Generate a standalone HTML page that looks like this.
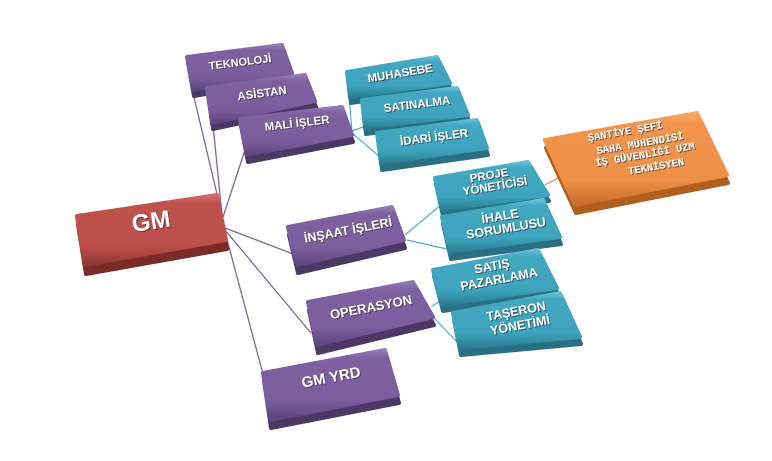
<!DOCTYPE html>
<html><head><meta charset="utf-8"><style>
html,body{margin:0;padding:0;background:#fff;}
svg{display:block;}
text{font-family:"Liberation Sans",sans-serif;font-weight:bold;}
.m{font-family:"Liberation Mono",monospace;font-weight:bold;}
</style></head><body>
<svg width="772" height="461" viewBox="0 0 772 461" xmlns="http://www.w3.org/2000/svg">
<defs>
<linearGradient id="gp" x1="0" y1="0" x2="0" y2="1"><stop offset="0" stop-color="#9479b6"/><stop offset="0.12" stop-color="#7f61a2"/><stop offset="0.72" stop-color="#7b5d9e"/><stop offset="0.88" stop-color="#6b508c"/><stop offset="1" stop-color="#5c447a"/></linearGradient>
<linearGradient id="gr" x1="0" y1="0" x2="0" y2="1"><stop offset="0" stop-color="#d06a66"/><stop offset="0.12" stop-color="#c0524d"/><stop offset="0.72" stop-color="#bc4f4a"/><stop offset="0.88" stop-color="#a6423e"/><stop offset="1" stop-color="#8c3532"/></linearGradient>
<linearGradient id="gt" x1="0" y1="0" x2="0" y2="1"><stop offset="0" stop-color="#66bfd4"/><stop offset="0.12" stop-color="#42a8c1"/><stop offset="0.72" stop-color="#3ea4bd"/><stop offset="0.88" stop-color="#338ea5"/><stop offset="1" stop-color="#2b7b90"/></linearGradient>
<linearGradient id="go" x1="0" y1="0" x2="0" y2="1"><stop offset="0" stop-color="#f8aa68"/><stop offset="0.12" stop-color="#f2944c"/><stop offset="0.72" stop-color="#ef9047"/><stop offset="0.88" stop-color="#da7c36"/><stop offset="1" stop-color="#c46b2a"/></linearGradient>
</defs>

<!-- connectors -->
<g stroke="#7b64ac" stroke-width="1.3" fill="none">
<line x1="222" y1="215" x2="193" y2="93"/>
<line x1="222" y1="215" x2="213" y2="125"/>
<line x1="223" y1="217" x2="245" y2="150"/>
<line x1="225" y1="228" x2="293" y2="254"/>
<line x1="225" y1="230" x2="311" y2="333"/>
<line x1="225" y1="232" x2="263" y2="374"/>
</g>
<g stroke="#4bb0cc" stroke-width="1.2" fill="none">
<line x1="352" y1="131" x2="349" y2="96"/>
<line x1="352" y1="131" x2="366" y2="126"/>
<line x1="352" y1="133" x2="381" y2="158"/>
<line x1="405" y1="235" x2="441" y2="205"/>
<line x1="407" y1="240" x2="451" y2="250"/>
<line x1="432" y1="306" x2="446" y2="298"/>
<line x1="434" y1="318" x2="461" y2="346"/>
</g>
<line x1="545" y1="185" x2="562" y2="176" stroke="#f5964e" stroke-width="1.3"/>

<g stroke-linejoin="round" stroke-width="4">
<!-- TEKNOLOJI -->
<polygon points="188,63 283,51 293,79 194,96" fill="#4b3865" stroke="#4b3865"/>
<polygon points="187,57 282,45 292,73 193,90" fill="url(#gp)" stroke="url(#gp)"/>
<!-- ASISTAN -->
<polygon points="208,94 306,81 316,107 213,129" fill="#4b3865" stroke="#4b3865"/>
<polygon points="207,88 305,75 315,101 212,123" fill="url(#gp)" stroke="url(#gp)"/>
<!-- MALI -->
<polygon points="241,126 343,114 353,142 248,162" fill="#4b3865" stroke="#4b3865"/>
<polygon points="240,119 342,107 352,135 247,155" fill="url(#gp)" stroke="url(#gp)"/>
<!-- GM -->
<polygon points="78,225 218,204 227,249 86,274" fill="#7a2a27" stroke="#7a2a27"/>
<polygon points="77,216 217,195 226,240 85,265" fill="url(#gr)" stroke="url(#gr)"/>
<!-- MUHASEBE -->
<polygon points="348,78 438,63 451,89 351,103" fill="#2a6f82" stroke="#2a6f82"/>
<polygon points="347,72 437,57 450,83 350,97" fill="url(#gt)" stroke="url(#gt)"/>
<!-- SATINALMA -->
<polygon points="363,106 458,94 469,121 366,134" fill="#2a6f82" stroke="#2a6f82"/>
<polygon points="362,100 457,88 468,115 365,128" fill="url(#gt)" stroke="url(#gt)"/>
<!-- IDARI -->
<polygon points="378,140 478,127 488,155 382,170" fill="#2a6f82" stroke="#2a6f82"/>
<polygon points="377,133 477,120 487,148 381,163" fill="url(#gt)" stroke="url(#gt)"/>
<!-- PROJE -->
<polygon points="436,184 529,168 549,201 443,216" fill="#2a6f82" stroke="#2a6f82"/>
<polygon points="435,178 528,162 548,195 442,210" fill="url(#gt)" stroke="url(#gt)"/>
<!-- IHALE -->
<polygon points="443,224 544,207 561,244 451,259" fill="#2a6f82" stroke="#2a6f82"/>
<polygon points="442,217 543,200 560,237 450,252" fill="url(#gt)" stroke="url(#gt)"/>
<!-- INSAAT -->
<polygon points="289,235 393,215 405,248 298,273" fill="#4b3865" stroke="#4b3865"/>
<polygon points="288,227 392,207 404,240 297,265" fill="url(#gp)" stroke="url(#gp)"/>
<!-- OPERASYON -->
<polygon points="309,310 414,290 434,325 318,353" fill="#4b3865" stroke="#4b3865"/>
<polygon points="308,302 413,282 433,317 317,345" fill="url(#gp)" stroke="url(#gp)"/>
<!-- GM YRD -->
<polygon points="264,381 386,358 399,403 271,428" fill="#4b3865" stroke="#4b3865"/>
<polygon points="263,373 385,350 398,395 270,420" fill="url(#gp)" stroke="url(#gp)"/>
<!-- SATIS -->
<polygon points="434,276 539,256 558,294 443,311" fill="#2a6f82" stroke="#2a6f82"/>
<polygon points="433,270 538,250 557,288 442,305" fill="url(#gt)" stroke="url(#gt)"/>
<!-- TASERON -->
<polygon points="454,320 561,300 581,344 461,355" fill="#2a6f82" stroke="#2a6f82"/>
<polygon points="453,313 560,293 580,337 460,348" fill="url(#gt)" stroke="url(#gt)"/>
<!-- ORANGE -->
<polygon points="546,148 698,121 728,183 576,213" fill="#b0601e" stroke="#b0601e"/>
<polygon points="545,140 697,113 727,175 575,205" fill="url(#go)" stroke="url(#go)"/>
</g>

<!-- text shadows -->
<g fill="#3b3b3b" fill-opacity="0.75" text-anchor="middle">
<text x="241" y="63" font-size="11" dy="0.35em" transform="rotate(-7.2 241 63)">TEKNOLOJİ</text>
<text x="263" y="94" font-size="11.5" dy="0.35em" transform="rotate(-7.6 263 94)">ASİSTAN</text>
<text x="298" y="124" font-size="11.5" dy="0.35em" transform="rotate(-6.7 298 124)">MALİ İŞLER</text>
<text x="152" y="222" font-size="24" dy="0.35em" transform="rotate(-8.5 152 222)">GM</text>
<text x="401" y="74" font-size="11.5" dy="0.35em" transform="rotate(-9.5 401 74)">MUHASEBE</text>
<text x="418" y="105" font-size="11.5" dy="0.35em" transform="rotate(-7.2 418 105)">SATINALMA</text>
<text x="435" y="138" font-size="11.5" dy="0.35em" transform="rotate(-7.4 435 138)">İDARİ İŞLER</text>
<text x="490" y="176" font-size="11.5" dy="0.35em" transform="rotate(-9.8 490 176)">PROJE</text>
<text x="496" y="187" font-size="11.5" dy="0.35em" transform="rotate(-9.8 496 187)">YÖNETİCİSİ</text>
<text x="501" y="217" font-size="12.5" dy="0.35em" transform="rotate(-9.6 501 217)">İHALE</text>
<text x="507" y="229" font-size="12.5" dy="0.35em" transform="rotate(-9.6 507 229)">SORUMLUSU</text>
<text x="349" y="231" font-size="12.5" dy="0.35em" transform="rotate(-10.9 349 231)">İNŞAAT İŞLERİ</text>
<text x="372" y="308" font-size="13" dy="0.35em" transform="rotate(-10.8 372 308)">OPERASYON</text>
<text x="332" y="378" font-size="15" dy="0.35em" transform="rotate(-10.7 332 378)">GM YRD</text>
<text x="493" y="267" font-size="12.5" dy="0.35em" transform="rotate(-10.8 493 267)">SATIŞ</text>
<text x="500" y="280" font-size="12.5" dy="0.35em" transform="rotate(-10.8 500 280)">PAZARLAMA</text>
<text x="517" y="312" font-size="12.5" dy="0.35em" transform="rotate(-10.6 517 312)">TAŞERON</text>
<text x="521" y="326" font-size="12.5" dy="0.35em" transform="rotate(-10.6 521 326)">YÖNETİMİ</text>
</g>
<g fill="#4a4a4a" fill-opacity="0.8" text-anchor="middle" class="m">
<text class="m" x="626" y="132" font-size="10.5" dy="0.35em" transform="rotate(-10 626 132)">ŞANTİYE ŞEFİ</text>
<text class="m" x="641" y="144" font-size="10.5" dy="0.35em" transform="rotate(-10 641 144)">SAHA MÜHENDİSİ</text>
<text class="m" x="646" y="155" font-size="10.5" dy="0.35em" transform="rotate(-10 646 155)">İŞ GÜVENLİĞİ UZM</text>
<text class="m" x="657" y="167" font-size="10.5" dy="0.35em" transform="rotate(-10 657 167)">TEKNİSYEN</text>
</g>

<!-- white text -->
<g fill="#ffffff" text-anchor="middle">
<text x="240" y="62" font-size="11" dy="0.35em" transform="rotate(-7.2 240 62)">TEKNOLOJİ</text>
<text x="262" y="93" font-size="11.5" dy="0.35em" transform="rotate(-7.6 262 93)">ASİSTAN</text>
<text x="297" y="123" font-size="11.5" dy="0.35em" transform="rotate(-6.7 297 123)">MALİ İŞLER</text>
<text x="151" y="221" font-size="24" dy="0.35em" transform="rotate(-8.5 151 221)">GM</text>
<text x="400" y="73" font-size="11.5" dy="0.35em" transform="rotate(-9.5 400 73)">MUHASEBE</text>
<text x="417" y="104" font-size="11.5" dy="0.35em" transform="rotate(-7.2 417 104)">SATINALMA</text>
<text x="434" y="137" font-size="11.5" dy="0.35em" transform="rotate(-7.4 434 137)">İDARİ İŞLER</text>
<text x="489" y="175" font-size="11.5" dy="0.35em" transform="rotate(-9.8 489 175)">PROJE</text>
<text x="495" y="186" font-size="11.5" dy="0.35em" transform="rotate(-9.8 495 186)">YÖNETİCİSİ</text>
<text x="500" y="216" font-size="12.5" dy="0.35em" transform="rotate(-9.6 500 216)">İHALE</text>
<text x="506" y="228" font-size="12.5" dy="0.35em" transform="rotate(-9.6 506 228)">SORUMLUSU</text>
<text x="348" y="230" font-size="12.5" dy="0.35em" transform="rotate(-10.9 348 230)">İNŞAAT İŞLERİ</text>
<text x="371" y="307" font-size="13" dy="0.35em" transform="rotate(-10.8 371 307)">OPERASYON</text>
<text x="331" y="377" font-size="15" dy="0.35em" transform="rotate(-10.7 331 377)">GM YRD</text>
<text x="492" y="266" font-size="12.5" dy="0.35em" transform="rotate(-10.8 492 266)">SATIŞ</text>
<text x="499" y="279" font-size="12.5" dy="0.35em" transform="rotate(-10.8 499 279)">PAZARLAMA</text>
<text x="516" y="311" font-size="12.5" dy="0.35em" transform="rotate(-10.6 516 311)">TAŞERON</text>
<text x="520" y="325" font-size="12.5" dy="0.35em" transform="rotate(-10.6 520 325)">YÖNETİMİ</text>
<text class="m" x="625" y="131" font-size="10.5" dy="0.35em" transform="rotate(-10 625 131)">ŞANTİYE ŞEFİ</text>
<text class="m" x="640" y="143" font-size="10.5" dy="0.35em" transform="rotate(-10 640 143)">SAHA MÜHENDİSİ</text>
<text class="m" x="645" y="154" font-size="10.5" dy="0.35em" transform="rotate(-10 645 154)">İŞ GÜVENLİĞİ UZM</text>
<text class="m" x="656" y="166" font-size="10.5" dy="0.35em" transform="rotate(-10 656 166)">TEKNİSYEN</text>
</g>
</svg>
</body></html>
